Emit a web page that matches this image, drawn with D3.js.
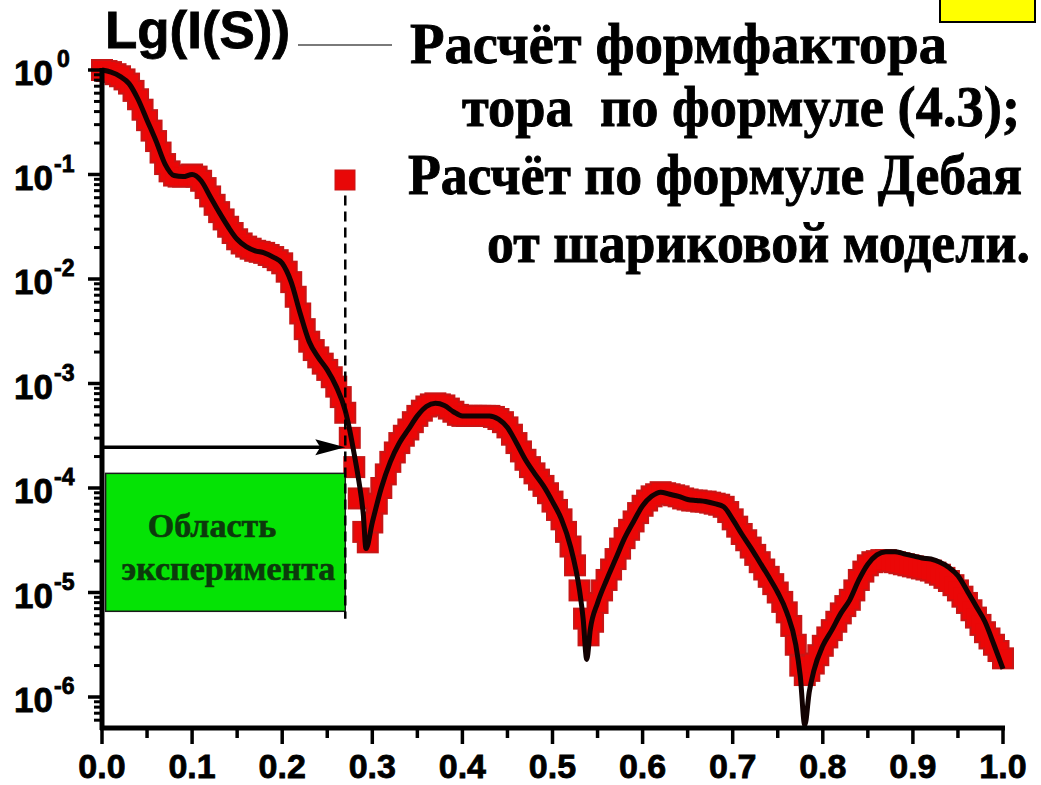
<!DOCTYPE html>
<html>
<head>
<meta charset="utf-8">
<script src="https://cdn.jsdelivr.net/npm/d3@7"></script>
<style>
  html, body { margin: 0; padding: 0; background: #fff; }
  svg { display: block; }
</style>
</head>
<body>
<svg id="chart" width="1041" height="785"></svg>
<script>
// ---- data ---------------------------------------------------------------
// x axis: scattering vector S
const xMajorTicks = [0, 0.1, 0.2, 0.3, 0.4, 0.5, 0.6, 0.7, 0.8, 0.9, 1.0];
const xTickLabels = ["0.0", "0.1", "0.2", "0.3", "0.4", "0.5", "0.6", "0.7", "0.8", "0.9", "1.0"];
const xMinorTicks = [0.05, 0.15, 0.25, 0.35, 0.45, 0.55, 0.65, 0.75, 0.85, 0.95];
// y axis: decades of I(S)
const yDecades = [0, -1, -2, -3, -4, -5, -6];

// torus form factor by formula (4.3): [S, log10 I]
const formFactor = [
  [0.000, 0.00], [0.010, -0.02], [0.020, -0.06], [0.030, -0.13], [0.040, -0.28],
  [0.050, -0.48], [0.060, -0.68], [0.070, -0.90], [0.080, -1.01], [0.090, -1.02],
  [0.100, -1.00], [0.110, -1.06], [0.120, -1.21], [0.130, -1.36], [0.140, -1.50],
  [0.150, -1.62], [0.160, -1.69], [0.170, -1.73], [0.180, -1.75], [0.190, -1.79],
  [0.200, -1.85], [0.210, -2.03], [0.220, -2.33], [0.230, -2.60], [0.240, -2.75],
  [0.250, -2.87], [0.260, -3.03], [0.270, -3.26], [0.275, -3.45], [0.280, -3.68],
  [0.285, -3.93], [0.290, -4.25], [0.293, -4.58], [0.300, -4.33], [0.310, -4.00],
  [0.320, -3.75], [0.330, -3.57], [0.340, -3.44], [0.350, -3.31], [0.360, -3.22],
  [0.370, -3.19], [0.380, -3.21], [0.390, -3.27], [0.400, -3.31], [0.410, -3.31],
  [0.420, -3.31], [0.430, -3.31], [0.440, -3.34], [0.450, -3.42], [0.460, -3.57],
  [0.470, -3.73], [0.480, -3.86], [0.490, -3.98], [0.500, -4.13], [0.510, -4.30],
  [0.520, -4.56], [0.530, -4.98], [0.534, -5.25], [0.538, -5.64], [0.542, -5.35],
  [0.550, -5.10], [0.560, -4.88], [0.570, -4.68], [0.580, -4.48], [0.590, -4.32],
  [0.600, -4.17], [0.610, -4.08], [0.620, -4.04], [0.630, -4.06], [0.640, -4.08],
  [0.650, -4.11], [0.660, -4.12], [0.670, -4.13], [0.680, -4.15], [0.690, -4.18],
  [0.700, -4.30], [0.710, -4.44], [0.720, -4.57], [0.730, -4.71], [0.740, -4.85],
  [0.750, -5.00], [0.760, -5.19], [0.770, -5.50], [0.775, -5.80], [0.780, -6.27],
  [0.785, -5.95], [0.790, -5.75], [0.800, -5.51], [0.810, -5.36], [0.820, -5.20],
  [0.830, -5.07], [0.840, -4.88], [0.850, -4.73], [0.860, -4.64], [0.870, -4.61],
  [0.880, -4.61], [0.890, -4.63], [0.900, -4.65], [0.910, -4.67], [0.920, -4.68],
  [0.930, -4.71], [0.940, -4.76], [0.950, -4.84], [0.960, -4.98], [0.970, -5.13],
  [0.980, -5.28], [0.990, -5.50], [1.000, -5.73]
];

// Debye formula for the bead model: [S, log10 I]
const debyeModel = [
  [0.000, 0.00], [0.005, -0.01], [0.010, -0.02], [0.015, -0.04], [0.020, -0.06],
  [0.025, -0.09], [0.030, -0.13], [0.035, -0.20], [0.040, -0.28], [0.045, -0.38],
  [0.050, -0.48], [0.055, -0.58], [0.060, -0.68], [0.065, -0.79], [0.070, -0.90],
  [0.075, -0.97], [0.080, -1.01], [0.085, -1.02], [0.090, -1.02], [0.095, -1.01],
  [0.100, -1.00], [0.105, -1.02], [0.110, -1.06], [0.115, -1.13], [0.120, -1.21],
  [0.125, -1.29], [0.130, -1.36], [0.135, -1.43], [0.140, -1.50], [0.145, -1.56],
  [0.150, -1.62], [0.155, -1.66], [0.160, -1.69], [0.165, -1.71], [0.170, -1.73],
  [0.175, -1.74], [0.180, -1.75], [0.185, -1.77], [0.190, -1.79], [0.195, -1.82],
  [0.200, -1.85], [0.205, -1.93], [0.210, -2.03], [0.215, -2.17], [0.220, -2.33],
  [0.225, -2.48], [0.230, -2.60], [0.235, -2.68], [0.240, -2.75], [0.245, -2.81],
  [0.250, -2.87], [0.255, -2.94], [0.260, -3.03], [0.265, -3.13], [0.270, -3.28],
  [0.275, -3.52], [0.280, -3.80], [0.285, -4.10], [0.290, -4.42], [0.295, -4.52],
  [0.300, -4.33], [0.305, -4.15], [0.310, -4.00], [0.315, -3.87], [0.320, -3.75],
  [0.325, -3.66], [0.330, -3.57], [0.335, -3.50], [0.340, -3.44], [0.345, -3.37],
  [0.350, -3.31], [0.355, -3.26], [0.360, -3.22], [0.365, -3.20], [0.370, -3.19],
  [0.375, -3.20], [0.380, -3.21], [0.385, -3.24], [0.390, -3.27], [0.395, -3.30],
  [0.400, -3.31], [0.405, -3.31], [0.410, -3.31], [0.415, -3.31], [0.420, -3.31],
  [0.425, -3.31], [0.430, -3.31], [0.435, -3.32], [0.440, -3.34], [0.445, -3.37],
  [0.450, -3.42], [0.455, -3.49], [0.460, -3.57], [0.465, -3.65], [0.470, -3.73],
  [0.475, -3.80], [0.480, -3.86], [0.485, -3.92], [0.490, -3.98], [0.495, -4.05],
  [0.500, -4.13], [0.505, -4.21], [0.510, -4.30], [0.515, -4.42], [0.520, -4.56],
  [0.525, -4.74], [0.530, -4.98], [0.535, -5.25], [0.540, -5.41], [0.545, -5.28],
  [0.550, -5.10], [0.555, -4.98], [0.560, -4.88], [0.565, -4.78], [0.570, -4.68],
  [0.575, -4.58], [0.580, -4.48], [0.585, -4.40], [0.590, -4.32], [0.595, -4.24],
  [0.600, -4.17], [0.605, -4.12], [0.610, -4.08], [0.615, -4.06], [0.620, -4.04],
  [0.625, -4.05], [0.630, -4.06], [0.635, -4.07], [0.640, -4.08], [0.645, -4.10],
  [0.650, -4.11], [0.655, -4.12], [0.660, -4.12], [0.665, -4.13], [0.670, -4.13],
  [0.675, -4.14], [0.680, -4.15], [0.685, -4.16], [0.690, -4.18], [0.695, -4.23],
  [0.700, -4.30], [0.705, -4.37], [0.710, -4.44], [0.715, -4.50], [0.720, -4.57],
  [0.725, -4.64], [0.730, -4.71], [0.735, -4.78], [0.740, -4.85], [0.745, -4.92],
  [0.750, -5.00], [0.755, -5.09], [0.760, -5.19], [0.765, -5.32], [0.770, -5.50],
  [0.775, -5.70], [0.780, -5.79], [0.785, -5.75], [0.790, -5.68], [0.795, -5.60],
  [0.800, -5.51], [0.805, -5.43], [0.810, -5.36], [0.815, -5.28], [0.820, -5.20],
  [0.825, -5.13], [0.830, -5.07], [0.835, -4.98], [0.840, -4.88], [0.845, -4.80],
  [0.850, -4.74], [0.855, -4.71], [0.860, -4.70], [0.865, -4.69], [0.870, -4.69],
  [0.875, -4.70], [0.880, -4.71], [0.885, -4.72], [0.890, -4.73], [0.895, -4.74],
  [0.900, -4.75], [0.905, -4.76], [0.910, -4.77], [0.915, -4.78], [0.920, -4.79],
  [0.925, -4.81], [0.930, -4.83], [0.935, -4.86], [0.940, -4.89], [0.945, -4.93],
  [0.950, -4.98], [0.955, -5.04], [0.960, -5.10], [0.965, -5.17], [0.970, -5.24],
  [0.975, -5.31], [0.980, -5.38], [0.985, -5.44], [0.990, -5.50], [0.995, -5.56],
  [1.000, -5.63]
];

// experimental range annotation
const experimentLimitS = 0.27;           // upper S of the measured range
const arrowLevelLog = -3.61;             // height of the range arrow
const experimentBoxLog = [-3.86, -5.18]; // vertical extent of the label box
const dashedLineLog = [-1.2, -5.25];     // extent of the dashed limit line

const legendLines = [
  "Расчёт формфактора",
  "тора  по формуле (4.3);",
  "Расчёт по формуле Дебая",
  "от шариковой модели."
];
const boxLabel = ["Область", "эксперимента"];

// ---- layout -------------------------------------------------------------
const svg = d3.select("#chart");
const plotLeft = 102, plotRight = 1003, plotTop = 70, plotBottom = 728;
const decadePx = 104.5;
const yMinLog = -(plotBottom - plotTop) / decadePx;

const x = d3.scaleLinear().domain([0, 1]).range([plotLeft, plotRight]);
const y = d3.scaleLog().domain([Math.pow(10, yMinLog), 1]).range([plotBottom, plotTop]);
const yl = v => y(Math.pow(10, v));

const SANS = "'Liberation Sans', Arial, sans-serif";
const SERIF = "'Liberation Serif', 'Times New Roman', serif";

svg.append("rect").attr("width", 1041).attr("height", 785).attr("fill", "#fff");

// ---- curves -------------------------------------------------------------
const plot = svg.append("g");
const sq = 22, sqIn = 18;
plot.append("g").selectAll("rect").data(debyeModel).join("rect")
  .attr("x", d => x(d[0]) - sq / 2).attr("y", d => yl(d[1]) - sq / 2)
  .attr("width", sq).attr("height", sq).attr("fill", "#c81616");
plot.append("g").selectAll("rect").data(debyeModel).join("rect")
  .attr("x", d => x(d[0]) - sqIn / 2).attr("y", d => yl(d[1]) - sqIn / 2)
  .attr("width", sqIn).attr("height", sqIn).attr("fill", "#eb0707");

const line = d3.line().x(d => x(d[0])).y(d => yl(d[1])).curve(d3.curveMonotoneX);
plot.append("path").datum(formFactor).attr("d", line)
  .attr("fill", "none").attr("stroke", "#120202").attr("stroke-width", 5)
  .attr("stroke-linejoin", "round");

// ---- experiment annotation -----------------------------------------------
const xe = x(experimentLimitS);
svg.append("rect")
  .attr("x", x(0.004)).attr("y", yl(experimentBoxLog[0]))
  .attr("width", xe - x(0.004)).attr("height", yl(experimentBoxLog[1]) - yl(experimentBoxLog[0]))
  .attr("fill", "#05e305").attr("stroke", "#1a1a1a").attr("stroke-width", 1.5);

svg.append("line")
  .attr("x1", xe).attr("x2", xe)
  .attr("y1", yl(dashedLineLog[0])).attr("y2", yl(dashedLineLog[1]))
  .attr("stroke", "#000").attr("stroke-width", 2.5).attr("stroke-dasharray", "10,6");

const boxCx = (x(0.004) + xe) / 2;
const boxText = svg.append("g").attr("font-family", SERIF).attr("font-weight", "bold")
  .attr("font-size", 34).attr("fill", "#0c3a0c").attr("stroke", "#0c3a0c")
  .attr("stroke-width", 0.6).attr("text-anchor", "middle");
boxText.append("text").attr("x", 212).attr("y", 537).text(boxLabel[0]);
boxText.append("text").attr("x", boxCx + 3).attr("y", 580).text(boxLabel[1]);

const ya = yl(arrowLevelLog);
svg.append("line").attr("x1", x(0)).attr("x2", xe - 20).attr("y1", ya).attr("y2", ya)
  .attr("stroke", "#000").attr("stroke-width", 3.5);
svg.append("path")
  .attr("d", `M${xe},${ya} L${xe - 30},${ya - 8} L${xe - 25},${ya} L${xe - 30},${ya + 8} Z`)
  .attr("fill", "#000");

// ---- axes ---------------------------------------------------------------
const axes = svg.append("g").attr("stroke", "#000").attr("stroke-linecap", "butt");

// y minor ticks 2..9 within every decade shown
const yMinor = [];
for (let k = -7; k < 0; k++) {
  for (let m = 2; m <= 9; m++) {
    const v = m * Math.pow(10, k);
    if (Math.log10(v) >= yMinLog) yMinor.push(v);
  }
}
axes.append("g").selectAll("line").data(yMinor).join("line")
  .attr("x1", plotLeft - 8).attr("x2", plotLeft).attr("y1", d => y(d)).attr("y2", d => y(d))
  .attr("stroke-width", 3);
axes.append("g").selectAll("line").data(yDecades).join("line")
  .attr("x1", plotLeft - 14).attr("x2", plotLeft).attr("y1", d => yl(d)).attr("y2", d => yl(d))
  .attr("stroke-width", 3.5);
axes.append("g").selectAll("line").data(xMinorTicks).join("line")
  .attr("x1", d => x(d)).attr("x2", d => x(d)).attr("y1", plotBottom).attr("y2", plotBottom + 10)
  .attr("stroke-width", 3.5);
axes.append("g").selectAll("line").data(xMajorTicks).join("line")
  .attr("x1", d => x(d)).attr("x2", d => x(d)).attr("y1", plotBottom).attr("y2", plotBottom + 16)
  .attr("stroke-width", 3.5);
// axis lines
axes.append("line").attr("x1", plotLeft).attr("x2", plotLeft)
  .attr("y1", plotTop - 2).attr("y2", plotBottom + 2).attr("stroke-width", 5);
axes.append("line").attr("x1", plotLeft - 2).attr("x2", plotRight + 2)
  .attr("y1", plotBottom).attr("y2", plotBottom).attr("stroke-width", 5);

// x tick labels
svg.append("g").selectAll("text").data(xMajorTicks).join("text")
  .attr("x", d => x(d)).attr("y", plotBottom + 50).attr("text-anchor", "middle")
  .attr("font-family", SANS).attr("font-weight", "bold").attr("font-size", 34)
  .attr("fill", "#000").attr("stroke", "#000").attr("stroke-width", 0.8)
  .text((d, i) => xTickLabels[i]);

// y tick labels: 10 with a raised exponent
const yLab = svg.append("g").attr("font-family", SANS).attr("font-weight", "bold")
  .attr("fill", "#000").attr("stroke", "#000").attr("stroke-width", 0.8);
yDecades.forEach(d => {
  const ty = yl(d);
  yLab.append("text").attr("x", 14).attr("y", ty + 15).attr("font-size", 35).text("10");
  yLab.append("text").attr("x", d === 0 ? 57 : 54).attr("y", ty - 3).attr("font-size", 23)
    .text(d === 0 ? "0" : "-" + Math.abs(d));
});

// axis title
svg.append("text").attr("x", 105).attr("y", 48)
  .attr("font-family", SANS).attr("font-weight", "bold").attr("font-size", 51)
  .attr("stroke", "#000").attr("stroke-width", 0.8)
  .attr("textLength", 185).attr("lengthAdjust", "spacingAndGlyphs").text("Lg(I(S))");

// ---- legend -------------------------------------------------------------
svg.append("line").attr("x1", 298).attr("x2", 392).attr("y1", 45).attr("y2", 45)
  .attr("stroke", "#7a7a7a").attr("stroke-width", 2);
svg.append("rect").attr("x", 335).attr("y", 170).attr("width", 20).attr("height", 20)
  .attr("fill", "#e80808").attr("stroke", "#c71717").attr("stroke-width", 1);

const legendPos = [
  { x: 410, y: 63, w: 537 },
  { x: 462, y: 126, w: 558 },
  { x: 408, y: 194, w: 614 },
  { x: 487, y: 262, w: 543 }
];
legendLines.forEach((t, i) => {
  svg.append("text")
    .attr("transform", `translate(${legendPos[i].x},${legendPos[i].y}) scale(1,1.12)`)
    .attr("font-family", SERIF).attr("font-weight", "bold").attr("font-size", 50)
    .attr("stroke", "#000").attr("stroke-width", 0.8)
    .attr("textLength", legendPos[i].w).attr("lengthAdjust", "spacingAndGlyphs")
    .style("white-space", "pre").attr("fill", "#000").text(t);
});

// highlight box at top right
svg.append("rect").attr("x", 940).attr("y", -4).attr("width", 95).attr("height", 26)
  .attr("fill", "#ffff00").attr("stroke", "#000").attr("stroke-width", 2);
</script>
</body>
</html>
